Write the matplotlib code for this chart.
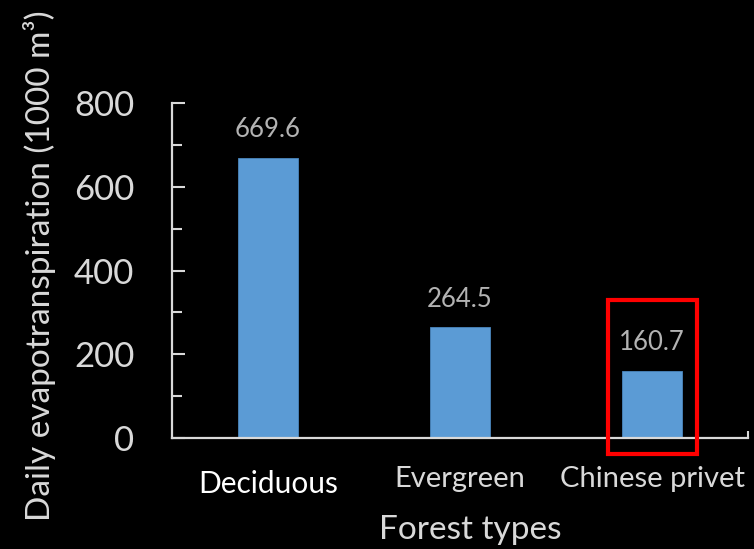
import matplotlib
matplotlib.use("Agg")
import matplotlib.pyplot as plt
from matplotlib.patches import Rectangle
from matplotlib.ticker import MultipleLocator, FixedLocator

plt.rcParams['font.family'] = ['Lato', 'DejaVu Sans']

categories = ["Deciduous", "Evergreen", "Chinese privet"]
values = [669.6, 264.5, 160.7]
value_labels = ["669.6", "264.5", "160.7"]
y_ticks = [0, 200, 400, 600, 800]

bar_color = "#5b9bd5"
axis_color = "#d9d9d9"
label_color = "#d9d9d9"
value_color = "#b3b3b3"

fig = plt.figure(figsize=(7.54, 5.49), dpi=100, facecolor="black")
ax = fig.add_axes([172 / 754, 1 - 438 / 549, 576 / 754, 335 / 549], facecolor="black")

x = list(range(len(categories)))
ax.bar(x, values, width=0.3125, color=bar_color, edgecolor="#4a86bd", linewidth=0.6, zorder=2)

for xi, v, lab in zip(x, values, value_labels):
    ax.annotate(lab, (xi, v), xytext=(0, 11), textcoords="offset points",
                ha="center", va="bottom", fontsize=18.5, color=value_color)

ax.set_xlim(-0.5, 2.5)
ax.set_ylim(0, 800)

for side in ("top", "right"):
    ax.spines[side].set_visible(False)
for side in ("left", "bottom"):
    ax.spines[side].set_color(axis_color)
    ax.spines[side].set_linewidth(1.6)

ax.yaxis.set_major_locator(FixedLocator(y_ticks))
ax.yaxis.set_minor_locator(MultipleLocator(100))
ax.tick_params(axis="y", which="major", direction="in", length=9, width=1.5,
               color=axis_color, labelsize=25, labelcolor=label_color, pad=27)
ax.tick_params(axis="y", which="minor", direction="in", length=7, width=1.5, color=axis_color)

ax.set_xticks(x)
ax.set_xticklabels(categories)
ax.xaxis.set_minor_locator(FixedLocator([2.5]))
ax.tick_params(axis="x", which="major", direction="in", length=5, width=1.5,
               color=axis_color, labelsize=21, labelcolor=label_color, pad=20)
ax.tick_params(axis="x", which="minor", direction="in", length=5, width=1.5, color=axis_color)
xt = ax.get_xticklabels()
xt[0].set_color("white")
xt[0].set_fontsize(21.5)
xt[0].set_y(-0.012)

fig.text(40 / 754, 1 - 266 / 549, "Daily evapotranspiration (1000 m³)", rotation=90,
         ha="center", va="center", fontsize=24, color=label_color)
fig.text(470 / 754, 1 - 530 / 549, "Forest types", ha="center", va="center",
         fontsize=24, color=label_color)

# highlight box around the Chinese privet bar
ax.add_patch(Rectangle((1.771, -38.2), 0.463, 367.8, fill=False, edgecolor="#ff0000",
                       linewidth=3, clip_on=False, zorder=3))

fig.savefig("out.png", dpi=100, facecolor="black")
